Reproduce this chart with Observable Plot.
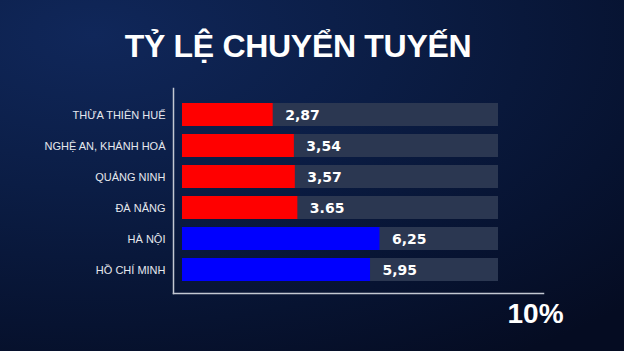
<!DOCTYPE html>
<html>
<head>
<meta charset="utf-8">
<script src="https://cdn.jsdelivr.net/npm/d3@7"></script>
<script src="https://cdn.jsdelivr.net/npm/@observablehq/plot@0.6"></script>
<style>
  html, body { margin: 0; padding: 0; }
  #page {
    position: relative; width: 624px; height: 351px; overflow: hidden;
    background: radial-gradient(ellipse 120% 110% at 15% 10%, #10275a 0%, #0b1d45 40%, #071331 75%, #050c22 100%);
  }
  #title {
    height: 52px; padding-top: 28px; box-sizing: content-box;
    line-height: 36px; text-align: center; color: #ffffff;
    font-family: "Liberation Sans", Arial, sans-serif; font-weight: bold;
    font-size: 32px; letter-spacing: -0.3px; padding-right: 28px;
  }
  #chart svg { display: block; }
</style>
</head>
<body>
<div id="page">
  <div id="title">TỶ LỆ CHUYỂN TUYẾN</div>
  <div id="chart"></div>
</div>
<script>
const categories = ["THỪA THIÊN HUẾ", "NGHỆ AN, KHÁNH HOÀ", "QUẢNG NINH", "ĐÀ NẴNG", "HÀ NỘI", "HỒ CHÍ MINH"];
const values = [2.87, 3.54, 3.57, 3.65, 6.25, 5.95];
const valueLabels = ["2,87", "3,54", "3,57", "3.65", "6,25", "5,95"];
const groups = ["tỉnh", "tỉnh", "tỉnh", "tỉnh", "thành phố lớn", "thành phố lớn"];
const tickValues = [10];
const tickLabels = ["10%"];

const rows = categories.map((c, i) => ({category: c, value: values[i], label: valueLabels[i], group: groups[i], max: tickValues[0]}));

const chart = Plot.plot({
  width: 624,
  height: 271,
  marginTop: 8,
  marginBottom: 58,
  marginLeft: 173,
  marginRight: 81,
  style: {background: "transparent", color: "#e6e8ee", fontFamily: "'Liberation Sans', Arial, sans-serif", fontSize: "11px"},
  x: {domain: [0, 10], range: [182, 498], axis: null},
  y: {domain: categories, range: [23, 201.5], paddingInner: 0.242, paddingOuter: 0, label: null, tickSize: 0, tickPadding: 8},
  color: {domain: ["tỉnh", "thành phố lớn"], range: ["#ff0000", "#0000ff"]},
  marks: [
    Plot.barX(rows, {x: "max", y: "category", fill: "#2b3751"}),
    Plot.barX(rows, {x: "value", y: "category", fill: "group"}),
    Plot.text(rows, {x: "value", y: "category", text: "label", dx: 12, dy: 1, textAnchor: "start", fill: "#ffffff", fontFamily: "DejaVu Sans", fontWeight: "bold", fontSize: 14}),
    Plot.frame({anchor: "left", stroke: "#c3c8d2", strokeWidth: 1.5}),
    Plot.frame({anchor: "bottom", stroke: "#c3c8d2", strokeWidth: 1.5}),
    Plot.text(tickLabels, {x: tickValues, text: d => d, frameAnchor: "bottom", textAnchor: "start", lineAnchor: "top", dx: 9, dy: 10, fill: "#ffffff", fontSize: 28, fontWeight: "bold", fontFamily: "'Liberation Sans', Arial, sans-serif"})
  ]
});
document.getElementById("chart").appendChild(chart);
</script>
</body>
</html>
